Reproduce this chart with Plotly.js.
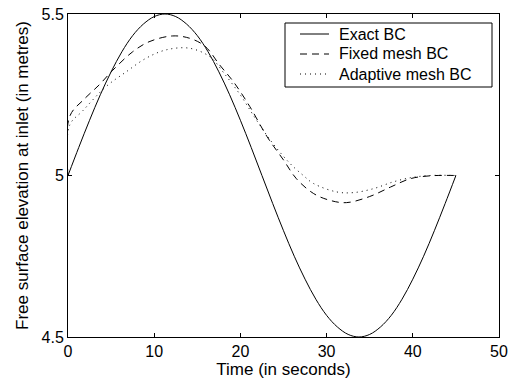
<!DOCTYPE html>
<html>
<head>
<meta charset="utf-8">
<script src="https://cdn.plot.ly/plotly-3.0.1.min.js"></script>
<style>body{margin:0;padding:0;background:#fff}#chart{width:511px;height:384px}</style>
</head>
<body>
<div id="chart"></div>
<script>
// Exact BC
var exactT = [0, 1.25, 2.5, 3.75, 5, 6.25, 7.5, 8.75, 10, 11.25, 12.5, 13.75, 15, 16.25, 17.5, 18.75, 20, 21.25, 22.5, 23.75, 25, 26.25, 27.5, 28.75, 30, 31.25, 32.5, 33.75, 35, 36.25, 37.5, 38.75, 40, 41.25, 42.5, 43.75, 45];
var exactV = [5.0, 5.087, 5.171, 5.25, 5.321, 5.383, 5.433, 5.469, 5.492, 5.5, 5.492, 5.469, 5.433, 5.383, 5.321, 5.25, 5.171, 5.087, 5.0, 4.913, 4.829, 4.75, 4.679, 4.617, 4.567, 4.531, 4.508, 4.5, 4.508, 4.531, 4.567, 4.617, 4.679, 4.75, 4.829, 4.913, 5.0];
// Fixed mesh BC
var fixedT = [0, 0.2, 1.9, 3.6, 5.2, 7.5, 9.4, 12.1, 14.1, 15.9, 17.6, 19.2, 21.1, 23.1, 25.0, 26.5, 28.5, 30.4, 32.3, 35.0, 37.4, 39.7, 42.0, 45.0];
var fixedV = [5.0, 5.183, 5.237, 5.28, 5.326, 5.383, 5.414, 5.432, 5.425, 5.40, 5.342, 5.29, 5.213, 5.12, 5.048, 4.99, 4.944, 4.923, 4.916, 4.935, 4.964, 4.99, 4.999, 5.0];
// Adaptive mesh BC
var adaptT = [0, 0.2, 1.7, 4.4, 6.7, 9.05, 11.4, 14.1, 16.5, 18.0, 20.0, 21.9, 23.8, 25.8, 27.3, 28.5, 31.2, 33.1, 35.4, 37.7, 39.7, 42.0, 45.0];
var adaptV = [5.0, 5.156, 5.20, 5.275, 5.32, 5.363, 5.389, 5.394, 5.367, 5.32, 5.249, 5.17, 5.098, 5.036, 5.0, 4.975, 4.949, 4.947, 4.959, 4.98, 4.993, 5.0, 5.0];
var seriesNames = ["Exact BC", "Fixed mesh BC", "Adaptive mesh BC"];
var xTicks = [0, 10, 20, 30, 40, 50];
var yTicks = [4.5, 5, 5.5];

var fam = "Liberation Sans, Arial, sans-serif";
var tickFont = {family: fam, size: 16, color: "#000"};
var titleFont = {family: fam, size: 17, color: "#000"};
var dashes = ["solid", "7px,5px", "1px,4px"];
var traces = [
  {x: exactT, y: exactV, name: seriesNames[0], mode: "lines", line: {color: "#000", width: 1, dash: dashes[0], shape: "spline"}},
  {x: fixedT, y: fixedV, name: seriesNames[1], mode: "lines", line: {color: "#000", width: 1, dash: dashes[1], shape: "spline"}},
  {x: adaptT, y: adaptV, name: seriesNames[2], mode: "lines", line: {color: "#000", width: 1, dash: dashes[2], shape: "spline"}}
];

// Legend drawn as a boxed key (paper coordinates)
var plotL = 68, plotR = 499, plotT = 14, plotB = 337;
function px2x(p) { return (p - plotL) / (plotR - plotL); }
function px2y(p) { return (plotB - p) / (plotB - plotT); }
var shapes = [{type: "rect", xref: "paper", yref: "paper", x0: px2x(285), x1: px2x(492), y0: px2y(87), y1: px2y(23), line: {color: "#000", width: 1}, fillcolor: "#fff", layer: "above"}];
var annotations = [];
var rowY = [34, 54, 74];
seriesNames.forEach(function (n, i) {
  shapes.push({type: "line", xref: "paper", yref: "paper", x0: px2x(300), x1: px2x(329), y0: px2y(rowY[i]), y1: px2y(rowY[i]), line: {color: "#000", width: 1, dash: dashes[i]}, layer: "above"});
  annotations.push({xref: "paper", yref: "paper", x: px2x(337), y: px2y(rowY[i]), xanchor: "left", yanchor: "middle", text: n, showarrow: false, font: {family: fam, size: 16, color: "#000"}});
});

var axisCommon = {showline: true, linecolor: "#000", linewidth: 1, mirror: "ticks", ticks: "inside", ticklen: 4, tickcolor: "#000", showgrid: false, zeroline: false, tickfont: tickFont};
var layout = {
  width: 511, height: 384,
  margin: {l: plotL, r: 511 - plotR, t: plotT, b: 384 - plotB},
  paper_bgcolor: "#fff", plot_bgcolor: "#fff",
  font: tickFont,
  showlegend: false,
  shapes: shapes,
  annotations: annotations,
  xaxis: Object.assign({}, axisCommon, {range: [0, 50], tickvals: xTicks, ticktext: xTicks.map(String), title: {text: "Time (in seconds)", font: titleFont, standoff: 2}}),
  yaxis: Object.assign({}, axisCommon, {range: [4.5, 5.5], tickvals: yTicks, ticktext: ["4.5", "5", "5.5"], title: {text: "Free surface elevation at inlet (in metres)", font: titleFont, standoff: 8}})
};
Plotly.newPlot("chart", traces, layout, {staticPlot: true, displayModeBar: false});
</script>
</body>
</html>
